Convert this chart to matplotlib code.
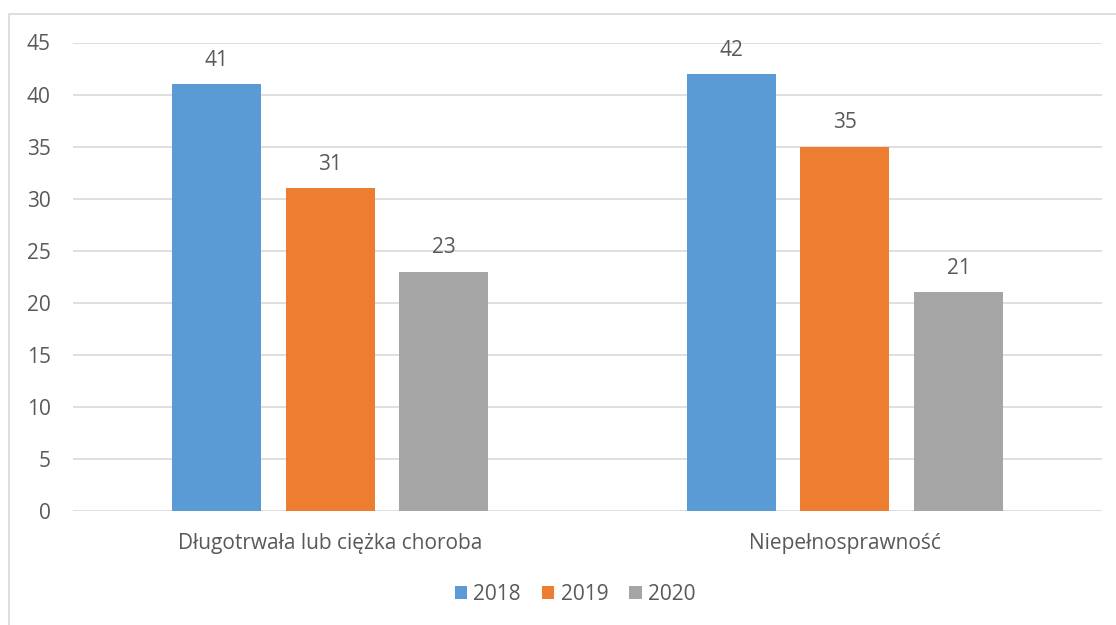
import matplotlib
matplotlib.use("Agg")
import matplotlib.pyplot as plt
from matplotlib.patches import Rectangle
import numpy as np

categories = ["Długotrwała lub ciężka choroba", "Niepełnosprawność"]
years = ["2018", "2019", "2020"]
values_2018 = [41, 42]
values_2019 = [31, 35]
values_2020 = [23, 21]
colors = ["#5B9BD5", "#ED7D31", "#A5A5A5"]
text_color = "#595959"

plt.rcParams["font.family"] = ["Open Sans", "DejaVu Sans"]

fig = plt.figure(figsize=(11.16, 6.25), dpi=100)
ax = fig.add_axes([73 / 1116, 1 - 511 / 625, (1102 - 73) / 1116, (511 - 42.5) / 625])

# outer frame like the office chart area
fig.patches.append(Rectangle((9 / 1116, -0.1), 1.2, 1 - 13.5 / 625 + 0.1,
                             transform=fig.transFigure, fill=False,
                             edgecolor="#d9d9d9", linewidth=1.2))

x = np.arange(len(categories))
width = 0.173
offset = 0.221
series = [values_2018, values_2019, values_2020]
for i, vals in enumerate(series):
    bars = ax.bar(x + (i - 1) * offset, vals, width, color=colors[i], label=years[i], zorder=3)
    for b, v in zip(bars, vals):
        ax.annotate(str(v), (b.get_x() + b.get_width() / 2, v), xytext=(0, 9.5),
                    textcoords="offset points", ha="center", va="bottom",
                    fontsize=15, color=text_color)

ax.set_xlim(-0.5, 1.5)
ax.set_ylim(0, 45)
ax.set_yticks(range(0, 46, 5))
ax.set_xticks(x)
ax.set_xticklabels(categories)
ax.yaxis.grid(True, color="#d9d9d9", linewidth=1.2, zorder=0)
ax.set_axisbelow(True)
for s in ax.spines.values():
    s.set_visible(False)
ax.tick_params(axis="both", length=0, labelsize=15, colors=text_color)
ax.tick_params(axis="y", pad=16)
ax.tick_params(axis="x", pad=16)

leg = fig.legend(loc="center", bbox_to_anchor=(575 / 1116, 1 - 594 / 625), ncol=3,
                 frameon=False, fontsize=15, handlelength=0.6, handleheight=0.6,
                 handletextpad=0.3, columnspacing=1.0)
for t in leg.get_texts():
    t.set_color(text_color)

fig.savefig("out.png", dpi=100)
